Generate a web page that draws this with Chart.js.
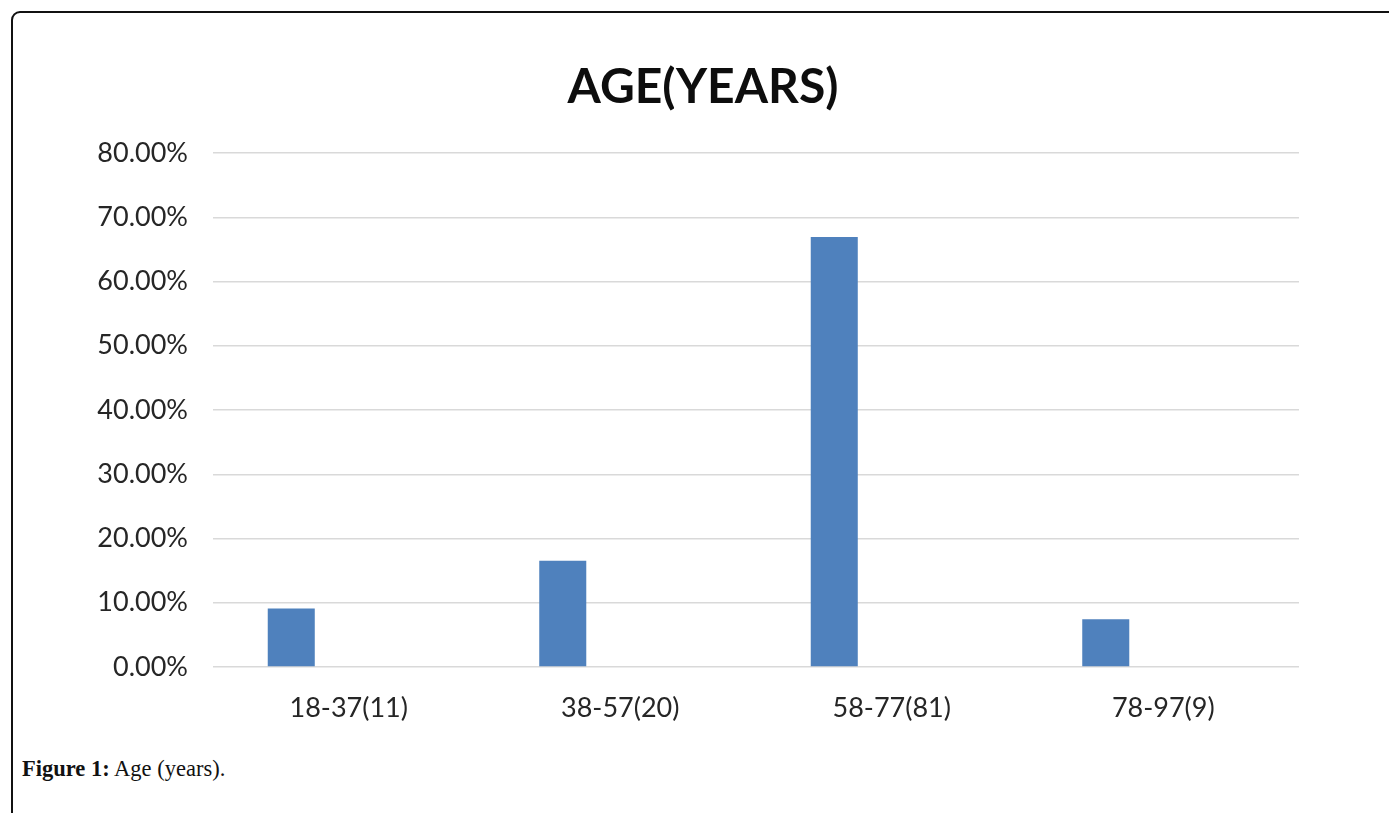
<!DOCTYPE html>
<html>
<head>
<meta charset="utf-8">
<script src="https://cdn.jsdelivr.net/npm/chart.js@4/dist/chart.umd.min.js"></script>
<style>
  html, body { margin: 0; padding: 0; background: #fff; }
  body { width: 1389px; height: 813px; position: relative; overflow: hidden; }
  .frame {
    position: absolute; left: 11px; top: 11px;
    width: 1400px; height: 820px;
    border: 2px solid #111; border-top-left-radius: 9px;
    box-sizing: border-box;
  }
  #wrap { position: absolute; left: 0; top: 0; width: 1389px; height: 745px; }
  .caption {
    position: absolute; left: 22px; top: 756px;
    font-family: "Liberation Serif", "DejaVu Serif", serif;
    font-size: 22.5px; color: #111; white-space: nowrap;
  }
  .caption b { font-weight: bold; }
</style>
</head>
<body>
<div class="frame"></div>
<div id="wrap"><canvas id="chart" width="1389" height="745"></canvas></div>
<div class="caption"><b>Figure 1:</b> Age (years).</div>
<script>
// Age groups, patient counts per group, and share of all patients
const ageRanges = ['18-37', '38-57', '58-77', '78-97'];
const patientCounts = [11, 20, 81, 9];
const shares = [0.0909, 0.1653, 0.6694, 0.0744];
const emptySeries = [null, null, null, null];
const yTicks = [0, 0.1, 0.2, 0.3, 0.4, 0.5, 0.6, 0.7, 0.8];

const labels = ageRanges.map((r, i) => r + '(' + patientCounts[i] + ')');

const ctx = document.getElementById('chart').getContext('2d');
new Chart(ctx, {
  type: 'bar',
  data: {
    labels: labels,
    datasets: [
      {
        label: 'Share',
        data: shares,
        backgroundColor: '#4f81bd',
        borderWidth: 0,
        categoryPercentage: 0.847,
        barPercentage: 0.409
      },
      {
        label: '',
        data: emptySeries,
        backgroundColor: '#c0504d',
        categoryPercentage: 0.847,
        barPercentage: 0.409
      }
    ]
  },
  options: {
    responsive: false,
    animation: false,
    layout: { padding: { top: 59, right: 0, bottom: 0, left: 17 } },
    plugins: {
      legend: { display: false },
      tooltip: { enabled: false },
      title: {
        display: true,
        text: 'AGE(YEARS)',
        color: '#0d0d0d',
        font: { family: 'Lato', size: 48, weight: 'bold' },
        padding: { top: 0, bottom: 36.4 }
      }
    },
    scales: {
      x: {
        grid: { display: false, drawTicks: false },
        border: { display: false },
        ticks: {
          color: '#262626',
          font: { family: 'Lato', size: 27 },
          padding: 25
        },
        afterFit: (scale) => { scale.height = 78; }
      },
      y: {
        min: 0,
        max: 0.8,
        afterBuildTicks: (scale) => { scale.ticks = yTicks.map(v => ({ value: v })); },
        grid: { color: '#d9d9d9', lineWidth: 1.5, drawTicks: false },
        border: { display: false },
        ticks: {
          color: '#262626',
          font: { family: 'Lato', size: 27 },
          padding: 25,
          callback: (v) => (v * 100).toFixed(2) + '%'
        },
        afterFit: (scale) => { scale.width = 196; }
      },
      // blank margin on the right of the plot area
      yRight: {
        position: 'right',
        display: true,
        grid: { display: false, drawTicks: false },
        border: { display: false },
        ticks: { display: false },
        afterFit: (scale) => { scale.width = 90; }
      }
    }
  }
});
</script>
</body>
</html>
